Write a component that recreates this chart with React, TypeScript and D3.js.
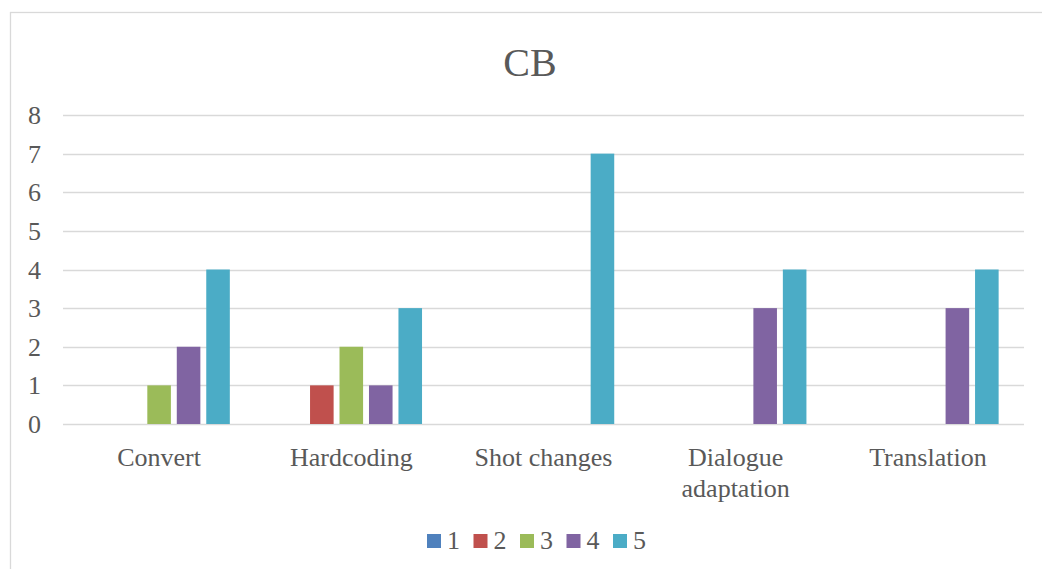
import React, { useEffect, useRef } from 'react';
import * as d3 from 'd3';

const categories = ['Convert', 'Hardcoding', 'Shot changes', 'Dialogue adaptation', 'Translation'];
const seriesNames = ['1', '2', '3', '4', '5'];
const series1 = [0, 0, 0, 0, 0];
const series2 = [0, 1, 0, 0, 0];
const series3 = [1, 2, 0, 0, 0];
const series4 = [2, 1, 0, 3, 3];
const series5 = [4, 3, 7, 4, 4];
const yTicks = [0, 1, 2, 3, 4, 5, 6, 7, 8];
const colors = ['#4F81BD', '#C0504D', '#9BBB59', '#8064A2', '#4BACC6'];

const W = 1042;
const H = 569;
const FONT = '"Liberation Serif", "Times New Roman", serif';
const TEXT = '#595959';

export default function App() {
  const svgRef = useRef<SVGSVGElement | null>(null);

  useEffect(() => {
    const svg = d3.select(svgRef.current);
    svg.selectAll('*').remove();

    const values = [series1, series2, series3, series4, series5];
    const plot = { left: 63, right: 1024, top: 115, bottom: 424 };

    // chart frame
    svg.append('rect')
      .attr('x', 10.5).attr('y', 12.5)
      .attr('width', W + 20).attr('height', H + 20)
      .attr('fill', '#fff')
      .attr('stroke', '#D9D9D9').attr('stroke-width', 1.3);

    // title
    svg.append('text')
      .attr('x', 530).attr('y', 76)
      .attr('text-anchor', 'middle')
      .style('font-family', FONT).style('font-size', '40px')
      .attr('fill', TEXT)
      .text('CB');

    const y = d3.scaleLinear().domain([0, 8]).range([plot.bottom, plot.top]);
    const x0 = d3.scaleBand<string>()
      .domain(categories)
      .range([plot.left, plot.right])
      .paddingInner(0.264)
      .paddingOuter(0.132);
    const x1 = d3.scaleBand<string>()
      .domain(seriesNames)
      .range([0, x0.bandwidth()])
      .paddingInner(0.2);

    // gridlines
    svg.append('g').selectAll('line')
      .data(yTicks)
      .enter().append('line')
      .attr('x1', plot.left).attr('x2', plot.right)
      .attr('y1', d => Math.round(y(d)) + 0.5)
      .attr('y2', d => Math.round(y(d)) + 0.5)
      .attr('stroke', '#D9D9D9').attr('stroke-width', 1.3);

    // y labels
    svg.append('g').selectAll('text')
      .data(yTicks)
      .enter().append('text')
      .attr('x', 41)
      .attr('y', d => y(d) + 9)
      .attr('text-anchor', 'end')
      .style('font-family', FONT).style('font-size', '26px')
      .attr('fill', TEXT)
      .text(d => d);

    // bars
    const groups = svg.append('g').selectAll('g')
      .data(categories)
      .enter().append('g')
      .attr('transform', d => `translate(${x0(d)},0)`);

    groups.selectAll('rect')
      .data((_, ci) => seriesNames.map((s, si) => ({ s, si, v: values[si][ci] })))
      .enter().append('rect')
      .filter(d => d.v > 0)
      .attr('x', d => x1(d.s)!)
      .attr('width', x1.bandwidth())
      .attr('y', d => y(d.v))
      .attr('height', d => y(0) - y(d.v))
      .attr('fill', d => colors[d.si]);

    // category labels
    categories.forEach(c => {
      const cx = x0(c)! + x0.bandwidth() / 2;
      const lines = c === 'Dialogue adaptation' ? ['Dialogue', 'adaptation'] : [c];
      const t = svg.append('text')
        .attr('text-anchor', 'middle')
        .style('font-family', FONT).style('font-size', '26px')
        .attr('fill', TEXT);
      lines.forEach((l, i) => {
        t.append('tspan').attr('x', cx).attr('y', 466 + i * 31).text(l);
      });
    });

    // legend
    const legendX = d3.scaleLinear().domain([0, 4]).range([427, 613]);
    const legend = svg.append('g').selectAll('g')
      .data(seriesNames)
      .enter().append('g')
      .attr('transform', (_, i) => `translate(${legendX(i)},534)`);
    legend.append('rect')
      .attr('width', 14).attr('height', 14)
      .attr('fill', (_, i) => colors[i]);
    legend.append('text')
      .attr('x', 20).attr('y', 15)
      .style('font-family', FONT).style('font-size', '26px')
      .attr('fill', TEXT)
      .text(d => d);
  }, []);

  return (
    <svg
      ref={svgRef}
      width={W}
      height={H}
      style={{ position: 'absolute', left: 0, top: 0, display: 'block', background: '#fff' }}
    />
  );
}
